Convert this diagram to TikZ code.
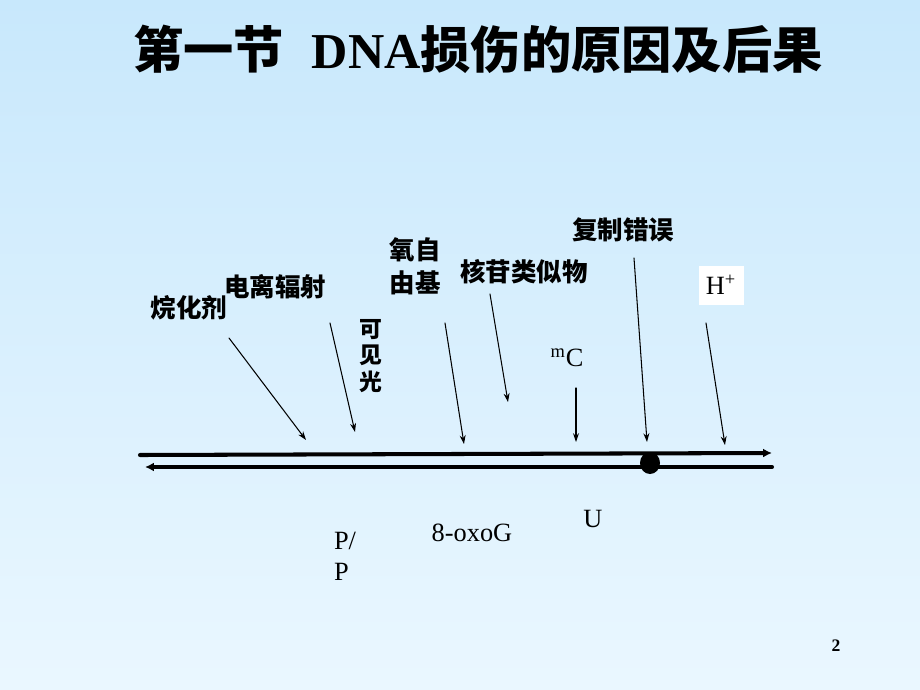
\documentclass[tikz,border=0pt]{standalone}
\usepackage{fontspec}
\setmainfont{Liberation Serif}
\newfontfamily\cjk{Noto Sans CJK SC}
\usetikzlibrary{arrows.meta}
\definecolor{skytop}{RGB}{200,232,252}
\definecolor{skybot}{RGB}{234,247,255}
\begin{document}
\begin{tikzpicture}[x=.02cm,y=-.02cm,line join=round,line cap=round,
 lab/.style={font=\cjk\bfseries\fontsize{14.5}{18.7}\selectfont,align=center,inner sep=0pt},
 rom/.style={font=\fontsize{15}{17.6}\selectfont,align=left,inner sep=0pt},
 hit/.style={-{Stealth[length=5pt,width=3.4pt]},line width=.6pt},
 strand/.style={line width=2.3pt,-{Latex[length=5pt,width=5pt]}}]
 \useasboundingbox (0,0) rectangle (920,690);
 \shade[top color=skytop,bottom color=skybot] (0,0) rectangle (920,690);
 \node[font=\cjk\bfseries\fontsize{28.6}{30}\selectfont] (title) at (478,49)
  {第一节\hspace{.55em}{\rmfamily\bfseries DNA}损伤的原因及后果};
 % causes
 \node[lab] (alk) at (189,308) {烷化剂};
 \node[lab] (ion) at (275,287) {电离辐射};
 \node[lab,font=\cjk\bfseries\fontsize{13}{15.3}\selectfont] (vis) at (371,356) {可\\见\\光};
 \node[lab] (rad) at (415,266) {氧自\\由基};
 \node[lab] (nuc) at (524,272) {核苷类似物};
 \node[lab] (rep) at (623,230) {复制错误};
 \node[rom,fill=white,minimum width=45*.02cm,minimum height=39*.02cm] (acid) at (721,285) {H\textsuperscript{+}};
 \node[rom] (mc) at (567,358) {\textsuperscript{m}C};
 % lesions
 \node[rom] (pp) at (345,556) {P/\\P};
 \node[rom] (oxo) at (472,533) {8-oxoG};
 \node[rom] (ura) at (593,519) {U};
 \node[font=\bfseries\fontsize{10}{12}\selectfont] (page) at (836,646) {2};
 % arrow ends
 \coordinate (a1) at (229,338); \coordinate (b1) at (306,440);
 \coordinate (a2) at (330,323); \coordinate (b2) at (355,432);
 \coordinate (a3) at (445,323); \coordinate (b3) at (464,444);
 \coordinate (a4) at (490,294); \coordinate (b4) at (508,402);
 \coordinate (a5) at (576,388); \coordinate (b5) at (576,442);
 \coordinate (a6) at (634,258); \coordinate (b6) at (647,442);
 \coordinate (a7) at (706,323); \coordinate (b7) at (725,445);
 \foreach \i in {1,...,7} \draw[hit] (a\i)--(b\i);
 % duplex
 \coordinate (s1) at (140,455); \coordinate (e1) at (772,453);
 \coordinate (s2) at (772,467); \coordinate (e2) at (145,467);
 \draw[strand] (s1)--(e1);
 \draw[strand] (s2)--(e2);
 \fill (650,463) ellipse (10 and 11);
\end{tikzpicture}
\end{document}
